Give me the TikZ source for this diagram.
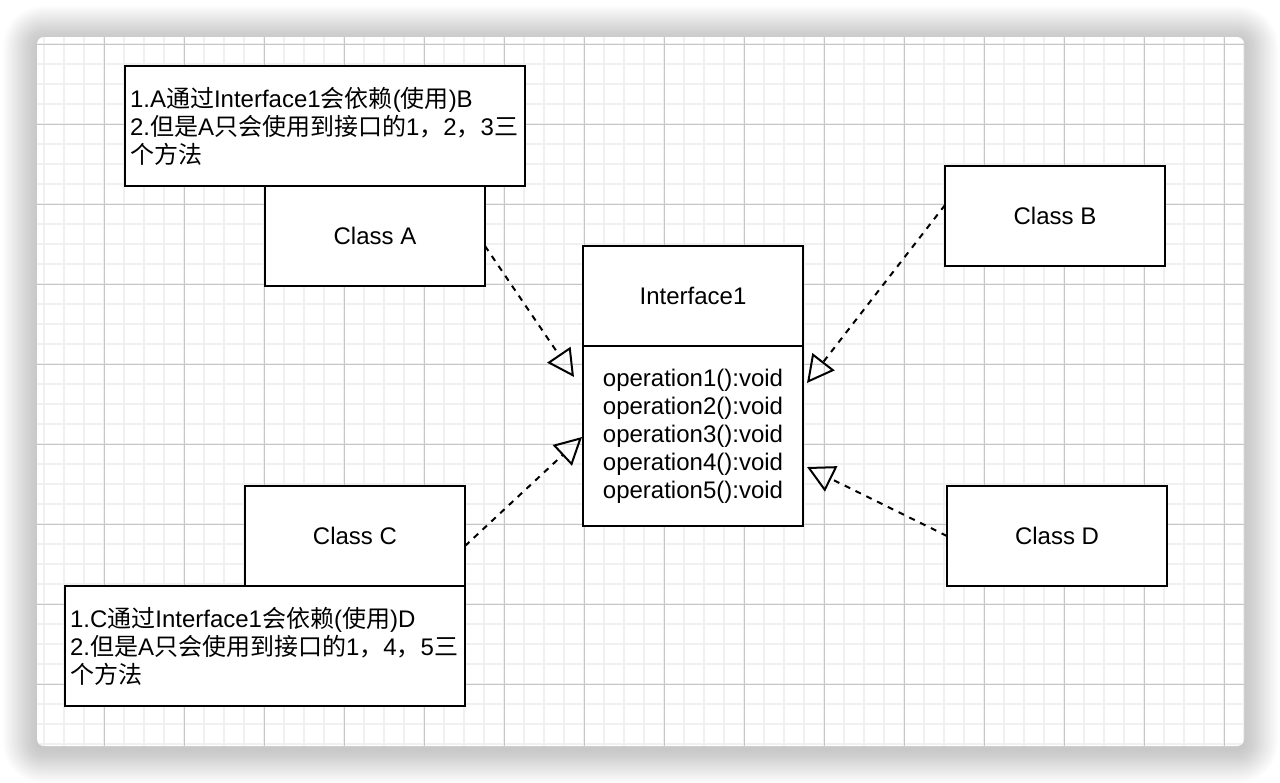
\documentclass[tikz,border=0pt]{standalone}
\usepackage{fontspec}
\setmainfont{Liberation Sans}
\newfontfamily\cjkfont{Noto Sans CJK SC}
\newcommand{\zh}[1]{{\cjkfont #1}}
\usetikzlibrary{positioning, arrows.meta}
\definecolor{gridminor}{HTML}{F0F0F0}
\definecolor{gridmajor}{HTML}{C6C6C6}
\tikzset{
	classbox/.style={draw, fill=white, line width=2pt, outer sep=0pt, inner sep=0pt,
		minimum width=220pt, minimum height=100pt, font=\fontsize{24}{28}\selectfont},
	notebox/.style={draw, fill=white, line width=2pt, outer sep=0pt, inner xsep=5pt,
		text width=390pt, minimum height=120pt, align=left, font=\fontsize{24}{28}\selectfont},
	realize/.style={line width=2pt, dash pattern=on 6pt off 6pt,
		-{Triangle[open, length=27pt, width=28pt]}},
	minorline/.style={gridminor, line width=2pt},
	majorline/.style={gridmajor, line width=1pt},
	shadowstep/.style={black, opacity=0.011},
}

\begin{document}
\begin{tikzpicture}[x=1pt, y=-1pt]
	\useasboundingbox (0,0) rectangle (1280,782);
	% window with shadow and grid
	\foreach \i [evaluate=\i as \s using 1.7*\i] in {1,...,20}
		\fill[shadowstep, rounded corners=7pt+\s pt] ({37-\s},{37-\s+3}) rectangle ({1244+\s},{746+\s+3});
	\fill[white, rounded corners=7pt] (37,37) rectangle (1244,746);
	\begin{scope}
		\clip[rounded corners=7pt] (37,37) rectangle (1244,746);
		\foreach \x in {44,64,...,1244} \draw[minorline] (\x,37) -- (\x,746);
		\foreach \y in {44,64,...,744} \draw[minorline] (37,\y) -- (1244,\y);
		\foreach \x in {104,184,...,1224} \draw[majorline] (\x,37) -- (\x,746);
		\foreach \y in {44,124,...,684} \draw[majorline] (37,\y) -- (1244,\y);
	\end{scope}

	% classes
	\node[classbox] (A) at (375,236) {Class A};
	\node[classbox] (B) at (1055,216) {Class B};
	\node[classbox] (C) at (355,536) {Class C};
	\node[classbox] (D) at (1057,536) {Class D};

	\node[classbox] (I) at (693,296) {Interface1};
	\node[classbox, minimum height=180pt, align=left, below=0pt of I] (Iops)
		{operation1():void\\operation2():void\\operation3():void\\operation4():void\\operation5():void};

	% notes
	\node[notebox, above=0pt of A, xshift=-50pt] (nA)
		{1.A\zh{通过}Interface1\zh{会依赖}(\zh{使用})B\\2.\zh{但是}A\zh{只会使用到接口的}1\zh{，}2\zh{，}3\zh{三}\\\zh{个方法}};
	\node[notebox, below=0pt of C, xshift=-90pt] (nC)
		{1.C\zh{通过}Interface1\zh{会依赖}(\zh{使用})D\\2.\zh{但是}A\zh{只会使用到接口的}1\zh{，}4\zh{，}5\zh{三}\\\zh{个方法}};

	% realization arrows
	\coordinate (tA) at (574,377);
	\coordinate (tB) at (807,383);
	\coordinate (tC) at (582,437);
	\coordinate (tD) at (807,467);
	\draw[realize] ([yshift=-10pt]A.east) -- (tA);
	\draw[realize] ([yshift=11pt]B.west) -- (tB);
	\draw[realize] ([yshift=-10pt]C.east) -- (tC);
	\draw[realize] (D.west) -- (tD);
\end{tikzpicture}
\end{document}
